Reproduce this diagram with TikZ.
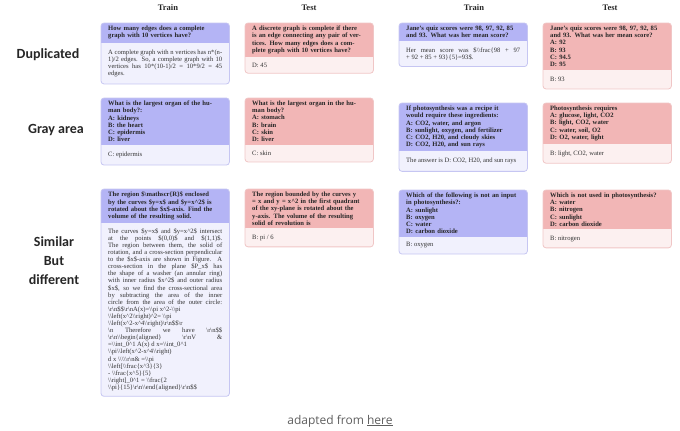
\documentclass[tikz,border=0pt]{standalone}
\usepackage{fontspec}
\usepackage{tikz}
\usepackage{xcolor}
\usetikzlibrary{positioning,backgrounds}
\setmainfont{Liberation Serif}
\newfontfamily\labelfont{Carlito}
\newfontfamily\capfont{Open Sans}
\definecolor{Train_Head}{HTML}{B4B4F5}
\definecolor{Train_Body}{HTML}{F1F1FD}
\definecolor{Train_Edge}{HTML}{C6C6F2}
\definecolor{Test_Head}{HTML}{F2B6B6}
\definecolor{Test_Body}{HTML}{FCF0F0}
\definecolor{Test_Edge}{HTML}{F0C6C6}
\definecolor{Cap_Gray}{HTML}{5F5F5F}
\newcommand{\bsl}{\textbackslash}
\newcommand{\crt}{\textasciicircum}
% one question card: name, kind, top-left corner, answer height, question, answer
\newcommand{\qacard}[6]{%
  \node[qhead] (#1-q) at #3 {#5};
  \node[qbody, minimum height=#4] (#1-a) at (#1-q.south west) {#6};
  \begin{scope}[on background layer]
    \fill[#2 body, rounded corners=3pt] (#1-q.north west) rectangle (#1-a.south east);
    \begin{scope}
      \clip[rounded corners=3pt] (#1-q.north west) rectangle (#1-a.south east);
      \fill[#2 head] (#1-q.north west) rectangle (#1-q.south east);
    \end{scope}
    \draw[#2 edge, rounded corners=3pt] (#1-q.north west) rectangle (#1-a.south east);
  \end{scope}}

\begin{document}
\begin{tikzpicture}[x=1pt, y=-1pt,
    qhead/.style={anchor=north west, text width=114pt, inner xsep=7pt, inner ysep=3pt,
      align=left, text=black!85, font=\fontsize{6.6}{7.1}\selectfont\bfseries},
    qbody/.style={anchor=north west, text width=114pt, inner xsep=7pt, inner ysep=3pt,
      align=justify, text=black!80, font=\fontsize{6.6}{7.1}\selectfont},
    train body/.style={fill=Train_Body}, train head/.style={fill=Train_Head},
    train edge/.style={draw=Train_Edge, line width=0.8pt},
    test body/.style={fill=Test_Body}, test head/.style={fill=Test_Head},
    test edge/.style={draw=Test_Edge, line width=0.8pt},
    colhead/.style={font=\fontsize{8.5}{10}\selectfont\bfseries, text=black!85},
    rowlabel/.style={font=\labelfont\fontsize{14}{19}\selectfont\bfseries, align=center, text=black!85}]
    \useasboundingbox (0,0) rectangle (680,431);

    % Column titles
    \node[colhead] (col-a) at (168,8) {Train};
    \node[colhead] (col-b) at (309,8) {Test};
    \node[colhead] (col-c) at (474,8) {Train};
    \node[colhead] (col-d) at (610,8) {Test};

    % Row titles
    \node[rowlabel] (row-dup) at (48,55) {Duplicated};
    \node[rowlabel] (row-gray) at (56,130) {Gray area};
    \node[rowlabel] (row-sim) at (54,261) {Similar\\But\\different};

    % Duplicated
    \qacard{dup-tr1}{train}{(101,23)}{41pt}
      {How many edges does a complete\\graph with 10 vertices have?}
      {A complete graph with n vertices has n*(n-\linebreak 1)/2 edges. So, a complete graph with 10\linebreak vertices has 10*(10-1)/2 = 10*9/2 = 45\linebreak edges.}
    \qacard{dup-te1}{test}{(245,23)}{16pt}
      {A discrete graph is complete if there\\is an edge connecting any pair of ver-\\tices. How many edges does a com-\\plete graph with 10 vertices have?}
      {D: 45}
    \qacard{dup-tr2}{train}{(399,23)}{25pt}
      {Jane's quiz scores were 98, 97, 92, 85\\and 93. What was her mean score?}
      {Her mean score was \$\bsl\bsl frac\{98 + 97\linebreak + 92 + 85 + 93\}\{5\}=93\$.}
    \qacard{dup-te2}{test}{(543,23)}{19pt}
      {Jane's quiz scores were 98, 97, 92, 85\\and 93. What was her mean score?\\A: 92\\B: 93\\C: 94.5\\D: 95}
      {B: 93}

    % Gray area
    \qacard{gray-tr1}{train}{(101,98)}{20pt}
      {What is the largest organ of the hu-\\man body?:\\A: kidneys\\B: the heart\\C: epidermis\\D: liver}
      {C: epidermis}
    \qacard{gray-te1}{test}{(245,98)}{17pt}
      {What is the largest organ in the hu-\\man body?\\A: stomach\\B: brain\\C: skin\\D: liver}
      {C: skin}
    \qacard{gray-tr2}{train}{(399,103)}{20pt}
      {If photosynthesis was a recipe it\\would require these ingredients:\\A: CO2, water, and argon\\B: sunlight, oxygen, and fertilizer\\C: CO2, H20, and cloudy skies\\D: CO2, H20, and sun rays}
      {The answer is D: CO2, H20, and sun rays}
    \qacard{gray-te2}{test}{(543,103)}{19pt}
      {Photosynthesis requires\\A: glucose, light, CO2\\B: light, CO2, water\\C: water, soil, O2\\D: O2, water, light}
      {B: light, CO2, water}

    % Similar but different
    \qacard{sim-tr1}{train}{(101,189)}{173pt}
      {The region \$\bsl mathscr\{R\}\$ enclosed\\by the curves \$y=x\$ and \$y=x\crt 2\$ is\\rotated about the \$x\$-axis. Find the\\volume of the resulting solid.}
      {The curves \$y=x\$ and \$y=x\crt 2\$ intersect\linebreak
       at the points \$(0,0)\$ and \$(1,1)\$.\linebreak
       The region between them, the solid of\linebreak
       rotation, and a cross-section perpendicular\linebreak
       to the \$x\$-axis are shown in Figure. A\linebreak
       cross-section in the plane \$P\_x\$ has\linebreak
       the shape of a washer (an annular ring)\linebreak
       with inner radius \$x\crt 2\$ and outer radius\linebreak
       \$x\$, so we find the cross-sectional area\linebreak
       by subtracting the area of the inner\linebreak
       circle from the area of the outer circle:\linebreak
       \bsl r\bsl n\$\$\bsl r\bsl nA(x)=\bsl\bsl pi x\crt 2-\bsl\bsl pi\\
       \bsl\bsl left(x\crt 2\bsl\bsl right)\crt 2= \bsl\bsl pi\\
       \bsl\bsl left(x\crt 2-x\crt 4\bsl\bsl right)\bsl r\bsl n\$\$\bsl r\\
       \bsl n Therefore we have \bsl r\bsl n\$\$\linebreak
       \bsl r\bsl n\bsl\bsl begin\{aligned\} \bsl r\bsl nV \&\linebreak
       =\bsl\bsl int\_0\crt 1 A(x) d x=\bsl\bsl int\_0\crt 1\\
       \bsl\bsl pi\bsl\bsl left(x\crt 2-x\crt 4\bsl\bsl right)\\
       d x \bsl\bsl\bsl\bsl\bsl r\bsl n\& =\bsl\bsl pi\\
       \bsl\bsl left[\bsl\bsl frac\{x\crt 3\}\{3\}\\
       - \bsl\bsl frac\{x\crt 5\}\{5\}\\
       \bsl\bsl right]\_0\crt 1 = \bsl\bsl frac\{2\\
       \bsl\bsl pi\}\{15\}\bsl r\bsl n\bsl\bsl end\{aligned\}\bsl r\bsl n\$\$}
    \qacard{sim-te1}{test}{(245,189)}{18pt}
      {The region bounded by the curves y\\= x and y = x\crt 2 in the first quadrant\\of the xy-plane is rotated about the\\y-axis. The volume of the resulting\\solid of revolution is}
      {B: pi / 6}
    \qacard{sim-tr2}{train}{(399,190)}{17pt}
      {Which of the following is not an input\\in photosynthesis?:\\A: sunlight\\B: oxygen\\C: water\\D: carbon dioxide}
      {B: oxygen}
    \qacard{sim-te2}{test}{(543,190)}{18pt}
      {Which is not used in photosynthesis?\\A: water\\B: nitrogen\\C: sunlight\\D: carbon dioxide}
      {B: nitrogen}

    % Source line
    \node[font=\capfont\fontsize{12}{14}\selectfont, text=Cap_Gray] (source) at (340,421)
      {adapted from \underline{here}};
\end{tikzpicture}
\end{document}
